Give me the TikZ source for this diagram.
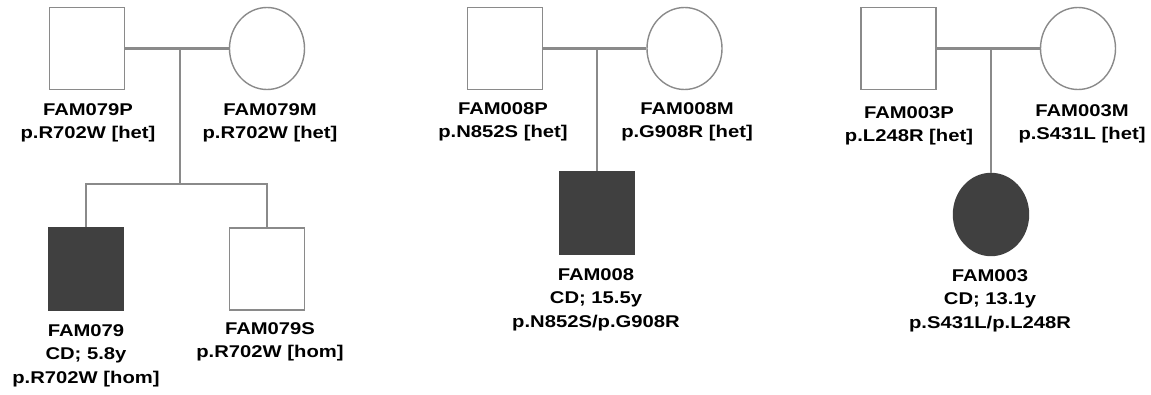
\documentclass[tikz,border=0pt]{standalone}
\usepackage{fontspec}
\setmainfont[FakeStretch=1.19]{Liberation Sans}
\usetikzlibrary{shapes.geometric}
\definecolor{linegray}{HTML}{8A8A8A}
\definecolor{darkfill}{HTML}{404040}
\tikzset{
  person/.style={draw=linegray, line width=1.4pt, inner sep=0pt,
                 minimum width=75pt, minimum height=82pt},
  male/.style={person, rectangle},
  female/.style={person, ellipse},
  affected/.style={fill=darkfill, draw=darkfill},
  link/.style={draw=linegray, line width=2.6pt},
  info/.style={align=center, anchor=north, inner sep=0pt,
               font=\fontsize{17}{23.5}\selectfont\bfseries}
}
\begin{document}
\begin{tikzpicture}[x=1pt,y=-1pt]
  \useasboundingbox (0,0) rectangle (1151,394);

  % family FAM079
  \node[male] (f79p) at (87,48.5) {};
  \node[female] (f79m) at (267,48.5) {};
  \node[male,affected] (f79) at (86,269) {};
  \node[male] (f79s) at (267,269) {};
  \coordinate (mar1) at (180,48.5);
  \coordinate (sib1) at (180,184);
  \draw[link] (f79p.east) -- (f79m.west);
  \draw[link] (mar1) -- (sib1);
  \draw[link] (f79.north) |- (sib1) -| (f79s.north);
  \node[info] (l79p) at (88,103) {FAM079P\\p.R702W [het]};
  \node[info] (l79m) at (270,103) {FAM079M\\p.R702W [het]};
  \node[info] (l79) at (86,324) {FAM079\\CD; 5.8y\\p.R702W [hom]};
  \node[info] (l79s) at (270,322) {FAM079S\\p.R702W [hom]};

  % family FAM008
  \node[male] (f8p) at (505,48.5) {};
  \node[female] (f8m) at (684.5,48.5) {};
  \node[male,affected] (f8) at (597,213) {};
  \coordinate (mar2) at (597,48.5);
  \draw[link] (f8p.east) -- (f8m.west);
  \draw[link] (mar2) -- (f8.north);
  \node[info] (l8p) at (503,102) {FAM008P\\p.N852S [het]};
  \node[info] (l8m) at (687,102) {FAM008M\\p.G908R [het]};
  \node[info] (l8) at (596,268) {FAM008\\CD; 15.5y\\p.N852S/p.G908R};

  % family FAM003
  \node[male] (f3p) at (898.5,48.5) {};
  \node[female] (f3m) at (1078,48.5) {};
  \node[female,affected] (f3) at (991,214.5) {};
  \coordinate (mar3) at (991,48.5);
  \draw[link] (f3p.east) -- (f3m.west);
  \draw[link] (mar3) -- (f3.north);
  \node[info] (l3p) at (909,106) {FAM003P\\p.L248R [het]};
  \node[info] (l3m) at (1082,104) {FAM003M\\p.S431L [het]};
  \node[info] (l3) at (990,269) {FAM003\\CD; 13.1y\\p.S431L/p.L248R};
\end{tikzpicture}
\end{document}
